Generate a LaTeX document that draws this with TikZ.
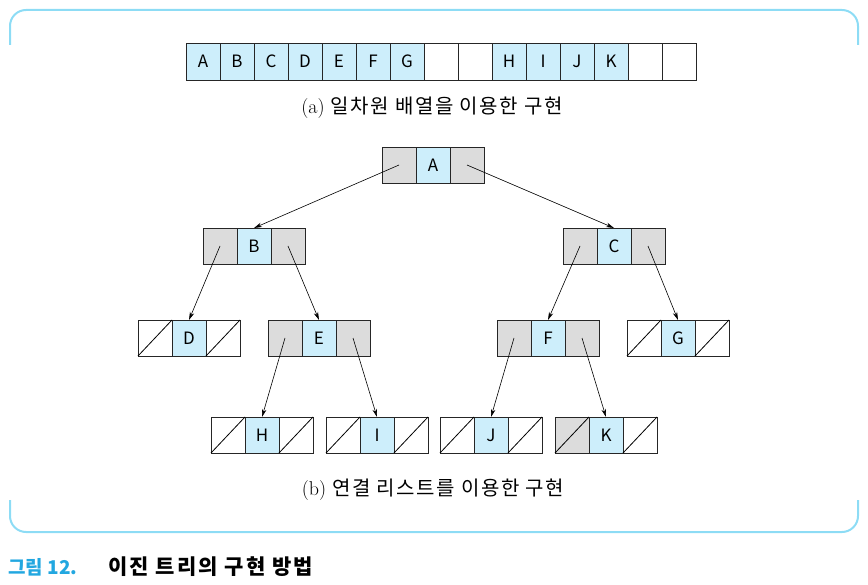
\documentclass[tikz,border=0pt]{standalone}
\usepackage{fontspec}
\newfontfamily\krfont{Noto Sans CJK KR}
\newfontfamily\krwide{Noto Sans CJK KR}[LetterSpace=8]
\newfontfamily\krtitle{Noto Sans CJK KR}[LetterSpace=10]
\usetikzlibrary{arrows.meta}
\definecolor{cellblue}{HTML}{CDEEFB}
\definecolor{cellgray}{HTML}{DCDCDC}
\definecolor{framecyan}{HTML}{8DDCF5}
\definecolor{titlecyan}{HTML}{22A7E0}

\begin{document}
\begin{tikzpicture}[x=1pt, y=-1pt,
  cell/.style={draw=black!85, line width=0.8pt, minimum width=34pt,
    minimum height=36pt, inner sep=0pt, outer sep=0pt,
    font=\krfont\fontsize{17}{17}\selectfont},
  key/.style={cell, fill=cellblue},
  ptr/.style={cell, fill=cellgray},
  link/.style={-{Stealth[length=8pt,width=4.5pt]}, line width=0.6pt},
  caption/.style={font=\fontsize{20}{20}\selectfont}]
  \def\Ya{165};
  \def\Yb{246};
  \def\Yc{338};
  \def\Yd{435};
  \useasboundingbox (0,0) rectangle (868,585);

  % frame
  \draw[framecyan, line width=2pt, rounded corners=16pt]
    (10,45) -- (10,10) -- (858,10) -- (858,45);
  \draw[framecyan, line width=2pt, rounded corners=16pt]
    (10,500) -- (10,532) -- (858,532) -- (858,500);

  % (a) array
  \foreach \lab [count=\i from 0] in {A,B,C,D,E,F,G}
    \node[key, minimum height=37pt] (arr\i) at (203+34*\i, 61.5) {\lab};
  \foreach \lab [count=\i from 9] in {H,I,J,K}
    \node[key, minimum height=37pt] (arr\i) at (203+34*\i, 61.5) {\lab};
  \foreach \i in {7,8,13,14}
    \node[cell, fill=white, minimum height=37pt] (arr\i) at (203+34*\i, 61.5) {};
  \node[caption] (capa) at (432,108) {(a)\ {\krwide 일차원 배열을 이용한 구현}};

  % (b) linked nodes
  \foreach \n/\x/\y in {A/433/\Ya, B/254/\Yb, C/614/\Yb, E/319/\Yc, F/548/\Yc} {
    \node[ptr] (\n-l) at (\x-34,\y) {};
    \node[key] (\n) at (\x,\y) {\n};
    \node[ptr] (\n-r) at (\x+34,\y) {};
  }
  \foreach \n/\x/\y/\lf in {D/189/\Yc/white, G/678/\Yc/white, H/262/\Yd/white,
      I/377/\Yd/white, J/491/\Yd/white, K/606/\Yd/cellgray} {
    \node[cell, fill=\lf] (\n-l) at (\x-34,\y) {};
    \node[key] (\n) at (\x,\y) {\n};
    \node[cell, fill=white] (\n-r) at (\x+34,\y) {};
    \draw[line width=0.8pt] (\n-l.south west) -- (\n-l.north east);
    \draw[line width=0.8pt] (\n-r.south west) -- (\n-r.north east);
  }

  \draw[link] (A-l.center) -- (B.north);
  \draw[link] (A-r.center) -- (C.north);
  \draw[link] (B-l.center) -- (D.north);
  \draw[link] (B-r.center) -- (E.north);
  \draw[link] (C-l.center) -- (F.north);
  \draw[link] (C-r.center) -- (G.north);
  \draw[link] (E-l.center) -- (H.north);
  \draw[link] (E-r.center) -- (I.north);
  \draw[link] (F-l.center) -- (J.north);
  \draw[link] (F-r.center) -- (K.north);

  \node[caption] (capb) at (433,490) {(b)\ {\krwide 연결 리스트를 이용한 구현}};

  % figure title
  \node[anchor=base west, inner sep=0pt, text=titlecyan,
    font=\krfont\bfseries\fontsize{19}{19}\selectfont] (fignum) at (8,574) {그림 12.};
  \node[anchor=base west, inner sep=0pt,
    font=\krtitle\bfseries\fontsize{21}{21}\selectfont] (figtitle) at (108,574) {이진 트리의 구현 방법};
\end{tikzpicture}
\end{document}
